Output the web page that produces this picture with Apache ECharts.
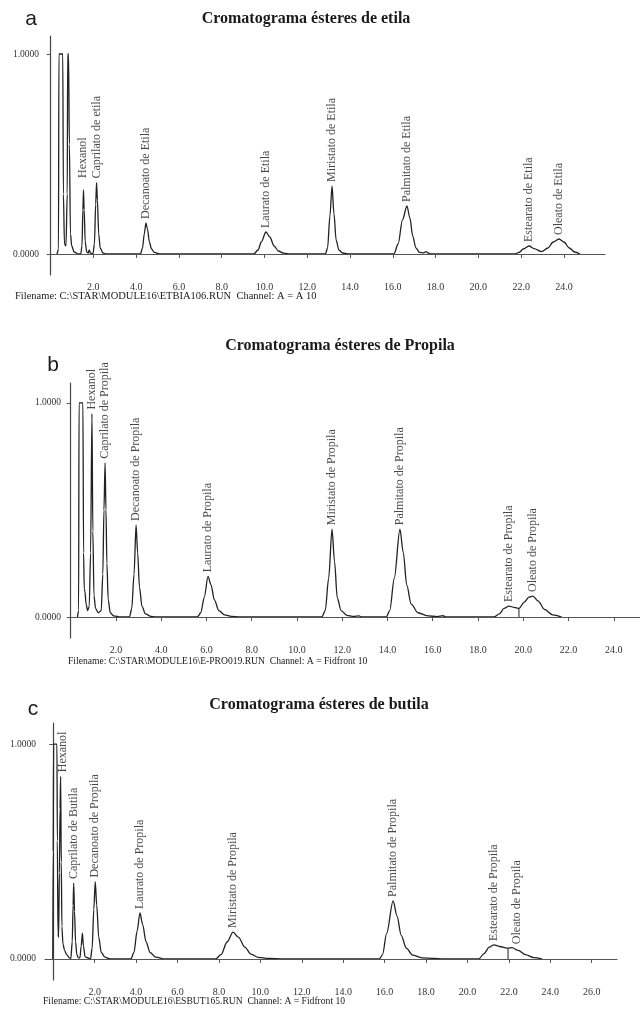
<!DOCTYPE html>
<html>
<head>
<meta charset="utf-8">
<script src="https://cdn.jsdelivr.net/npm/echarts@6/dist/echarts.min.js"></script>
<style>
  html, body { margin: 0; padding: 0; background: #fff; }
  #main { width: 640px; height: 1009px; }
</style>
</head>
<body>
<div id="main"></div>
<script>
// retention time (min), detector response (1.0000 = full scale)

// --- a: ésteres de etila
var traceA = [
  [0.30, 0], [0.37, 0.02], [0.39, 1.0], [0.57, 1.0], [0.60, 0.3], [0.65, 0.05], [0.72, 0.04],
  [0.78, 0.3], [0.80, 1.0], [0.84, 1.0], [0.88, 0.55], [0.93, 0.1], [0.99, 0.04], [1.10, 0.01], [1.30, 0],
  [1.41, 0], [1.47, 0.04], [1.51, 0.22], [1.54, 0.32], [1.57, 0.22], [1.62, 0.06], [1.69, 0.01],
  [1.76, 0.005], [1.81, 0.02], [1.86, 0.005],
  [1.98, 0], [2.05, 0.05], [2.11, 0.25], [2.15, 0.357], [2.19, 0.27], [2.25, 0.1], [2.32, 0.03], [2.45, 0.005], [2.60, 0],
  [4.20, 0], [4.30, 0.03], [4.38, 0.1], [4.46, 0.155], [4.53, 0.125], [4.62, 0.06], [4.72, 0.025], [4.85, 0.008], [5.10, 0],
  [9.50, 0], [9.70, 0.02], [9.85, 0.06], [10.07, 0.11], [10.25, 0.085], [10.45, 0.04], [10.65, 0.015], [10.90, 0.004], [11.20, 0],
  [12.85, 0], [12.95, 0.03], [13.06, 0.19], [13.16, 0.34], [13.25, 0.2], [13.35, 0.07], [13.48, 0.02], [13.65, 0.005], [13.90, 0],
  [16.05, 0], [16.25, 0.05], [16.45, 0.17], [16.66, 0.24], [16.80, 0.18], [16.93, 0.09], [17.08, 0.03], [17.25, 0.008],
  [17.45, 0.006], [17.55, 0.012], [17.65, 0.005], [17.80, 0],
  [21.70, 0], [21.90, 0.008], [22.10, 0.025], [22.37, 0.04], [22.60, 0.027], [22.96, 0.012], [23.25, 0.03], [23.50, 0.06],
  [23.77, 0.075], [24.00, 0.06], [24.25, 0.03], [24.50, 0.01], [24.75, 0]
];
var namesA = ["Hexanol", "Caprilato de etila", "Decanoato de Etila", "Laurato de Etila", "Miristato de Etila",
  "Palmitato de Etila", "Estearato de Etila", "Oleato de Etila"];
var timesA = [1.51, 2.15, 4.46, 10.07, 13.16, 16.66, 22.37, 23.77];
var heightsA = [0.36, 0.357, 0.155, 0.11, 0.34, 0.24, 0.04, 0.075];

// --- b: ésteres de Propila
var traceB = [
  [0.30, 0], [0.35, 0.03], [0.37, 1.0], [0.54, 1.0], [0.57, 0.3], [0.60, 0.13], [0.63, 0.12], [0.68, 0.06], [0.75, 0.03],
  [0.82, 0.05], [0.88, 0.3], [0.94, 0.95], [0.98, 0.4], [1.03, 0.1], [1.10, 0.04], [1.22, 0.02], [1.35, 0.03],
  [1.42, 0.2], [1.47, 0.5], [1.52, 0.72], [1.56, 0.5], [1.60, 0.25], [1.66, 0.08], [1.75, 0.02], [1.90, 0.005], [2.20, 0],
  [2.60, 0], [2.70, 0.04], [2.80, 0.2], [2.89, 0.43], [2.96, 0.3], [3.04, 0.14], [3.15, 0.05], [3.30, 0.015], [3.55, 0.003], [3.75, 0],
  [5.60, 0], [5.75, 0.02], [5.90, 0.09], [6.07, 0.19], [6.20, 0.15], [6.35, 0.08], [6.55, 0.03], [6.80, 0.01], [7.10, 0.003], [7.50, 0],
  [11.10, 0], [11.25, 0.03], [11.40, 0.18], [11.55, 0.41], [11.66, 0.26], [11.78, 0.09], [11.95, 0.03], [12.20, 0.008],
  [12.50, 0.003], [12.75, 0.005], [12.85, 0],
  [13.95, 0], [14.10, 0.03], [14.30, 0.18], [14.55, 0.41], [14.70, 0.3], [14.85, 0.15], [15.05, 0.06], [15.35, 0.02],
  [15.80, 0.005], [16.20, 0.002], [16.45, 0.006], [16.60, 0],
  [18.70, 0], [18.95, 0.015], [19.15, 0.04], [19.37, 0.051], [19.60, 0.045], [19.81, 0.04], [20.05, 0.07], [20.25, 0.093],
  [20.43, 0.098], [20.65, 0.075], [20.95, 0.035], [21.30, 0.01], [21.70, 0]
];
var namesB = ["Hexanol", "Caprilato de Propila", "Decanoato de Propila", "Laurato de Propila", "Miristato de Propila",
  "Palmitato de Propila", "Estearato de Propila", "Oleato de Propila"];
var timesB = [0.94, 1.52, 2.89, 6.07, 11.55, 14.55, 19.37, 20.43];
var heightsB = [0.95, 0.72, 0.43, 0.19, 0.41, 0.41, 0.051, 0.098];
var cutB = [[19.81, 0], [19.81, 0.04]];

// --- c: ésteres de butila
var traceC = [
  [-0.02, 0], [0.00, 0.5], [0.02, 1.0], [0.18, 1.0], [0.20, 0.55], [0.23, 0.12], [0.26, 0.1], [0.30, 0.4], [0.33, 0.7],
  [0.36, 0.85], [0.39, 0.45], [0.42, 0.15], [0.47, 0.07], [0.55, 0.04], [0.65, 0.02], [0.78, 0.005],
  [0.85, 0.002], [0.92, 0.08], [0.96, 0.25], [0.99, 0.353], [1.03, 0.22], [1.08, 0.08], [1.14, 0.02], [1.22, 0.005],
  [1.29, 0.005], [1.35, 0.06], [1.41, 0.12], [1.46, 0.06], [1.54, 0.01],
  [1.80, 0], [1.88, 0.05], [1.96, 0.23], [2.03, 0.36], [2.10, 0.25], [2.20, 0.1], [2.32, 0.03], [2.50, 0.008], [2.75, 0],
  [3.75, 0], [3.90, 0.03], [4.05, 0.13], [4.19, 0.214], [4.32, 0.16], [4.48, 0.08], [4.68, 0.03], [4.95, 0.008], [5.40, 0],
  [7.85, 0], [8.10, 0.02], [8.40, 0.08], [8.68, 0.125], [8.95, 0.1], [9.25, 0.055], [9.55, 0.022], [9.90, 0.007], [10.40, 0.002], [11.10, 0],
  [15.75, 0], [15.90, 0.02], [16.10, 0.12], [16.41, 0.27], [16.60, 0.2], [16.80, 0.11], [17.05, 0.05], [17.35, 0.018],
  [17.80, 0.005], [18.40, 0.002], [18.80, 0],
  [20.55, 0], [20.80, 0.025], [21.05, 0.055], [21.28, 0.065], [21.55, 0.058], [21.96, 0.05], [22.15, 0.053], [22.45, 0.04],
  [22.80, 0.02], [23.20, 0.006], [23.60, 0]
];
var namesC = ["Hexanol", "Caprilato de Butila", "Decanoato de Propila", "Laurato de Propila", "Miristato de Propila",
  "Palmitato de Propila", "Estearato de Propila", "Oleato de Propila"];
var timesC = [0.47, 0.99, 2.03, 4.19, 8.68, 16.41, 21.28, 22.4];
var heightsC = [0.85, 0.353, 0.36, 0.214, 0.125, 0.27, 0.065, 0.05];
var cutC = [[21.96, 0], [21.96, 0.05]];

var ticksAB = [2, 4, 6, 8, 10, 12, 14, 16, 18, 20, 22, 24];
var ticksC = [2, 4, 6, 8, 10, 12, 14, 16, 18, 20, 22, 24, 26];

var serif = "'Liberation Serif', 'DejaVu Serif', serif";
var ink = "#333";

function xAxis(i, min, max, ticks) {
  return {
    type: "value", gridIndex: i, min: min, max: max,
    axisLine: {lineStyle: {color: "#444", width: 1.2}},
    axisTick: {customValues: ticks, length: 4, lineStyle: {color: "#555"}},
    axisLabel: {
      customValues: ticks, margin: 7, color: ink, fontFamily: serif, fontSize: 10,
      formatter: function (v) { return v.toFixed(1); }
    },
    splitLine: {show: false}
  };
}

function yAxis(i, min, max) {
  return {
    type: "value", gridIndex: i, min: min, max: max,
    axisLine: {show: true, lineStyle: {color: "#444", width: 1.2}},
    axisTick: {show: true, customValues: [0, 1], length: 4, lineStyle: {color: "#555"}},
    axisLabel: {
      customValues: [0, 1], margin: 9, color: ink, fontFamily: serif, fontSize: 9.5,
      formatter: function (v) { return v.toFixed(4); }
    },
    splitLine: {show: false}
  };
}

function trace(i, data) {
  return {
    type: "line", xAxisIndex: i, yAxisIndex: i, data: data,
    showSymbol: false, smooth: 0.3, smoothMonotone: "x",
    lineStyle: {color: "#222", width: 1.3},
    markLine: {
      silent: true, symbol: ["none", "none"], label: {show: false},
      lineStyle: {color: "#555", width: 1.1, type: "solid"},
      data: [{yAxis: 0}]
    }
  };
}

function peakLabels(i, names, times, heights) {
  var pts = [];
  for (var k = 0; k < names.length; k++) pts.push([times[k], heights[k], names[k]]);
  return {
    type: "scatter", xAxisIndex: i, yAxisIndex: i, data: pts, symbolSize: 0, silent: true,
    label: {
      show: true, position: "top", distance: 4, rotate: 90, align: "left", verticalAlign: "middle",
      fontFamily: serif, fontSize: 12, color: "#1a1a1a",
      formatter: function (p) { return p.data[2]; }
    }
  };
}

function cut(i, data) {
  return {
    type: "line", xAxisIndex: i, yAxisIndex: i, data: data, showSymbol: false,
    lineStyle: {color: "#333", width: 1.1}
  };
}

function txt(x, y, text, font, align) {
  return {
    type: "text", x: x, y: y,
    style: {text: text, font: font, fill: "#1a1a1a", textAlign: align || "left", textVerticalAlign: "middle"}
  };
}

var myChart = echarts.init(document.getElementById("main"));
myChart.setOption({
  animation: false,
  backgroundColor: "#fff",
  grid: [
    {left: 48, top: 36, width: 557, height: 239},
    {left: 70, top: 383, width: 570, height: 255},
    {left: 45, top: 723, width: 572, height: 257}
  ],
  xAxis: [
    xAxis(0, -0.12, 25.92, ticksAB),
    xAxis(1, -0.03, 25.16, ticksAB),
    xAxis(2, -0.396, 27.22, ticksC)
  ],
  yAxis: [
    yAxis(0, -0.105, 1.09),
    yAxis(1, -0.098, 1.093),
    yAxis(2, -0.098, 1.098)
  ],
  series: [
    trace(0, traceA), peakLabels(0, namesA, timesA, heightsA),
    trace(1, traceB), peakLabels(1, namesB, timesB, heightsB), cut(1, cutB),
    trace(2, traceC), peakLabels(2, namesC, timesC, heightsC), cut(2, cutC)
  ],
  graphic: [
    txt(31, 19, "a", "21px 'Liberation Sans', Arial, sans-serif", "center"),
    txt(53, 365, "b", "21px 'Liberation Sans', Arial, sans-serif", "center"),
    txt(33, 709, "c", "21px 'Liberation Sans', Arial, sans-serif", "center"),
    txt(306, 19, "Cromatograma ésteres de etila", "bold 16px " + serif, "center"),
    txt(340, 346, "Cromatograma ésteres de Propila", "bold 16px " + serif, "center"),
    txt(319, 705, "Cromatograma ésteres de butila", "bold 16px " + serif, "center"),
    txt(15, 296, "Filename: C:\\STAR\\MODULE16\\ETBIA106.RUN  Channel: A = A 10", "10.5px " + serif),
    txt(68, 661, "Filename: C:\\STAR\\MODULE16\\E-PRO019.RUN  Channel: A = Fidfront 10", "9.6px " + serif),
    txt(43, 1001, "Filename: C:\\STAR\\MODULE16\\ESBUT165.RUN  Channel: A = Fidfront 10", "9.6px " + serif)
  ]
});
</script>
</body>
</html>
